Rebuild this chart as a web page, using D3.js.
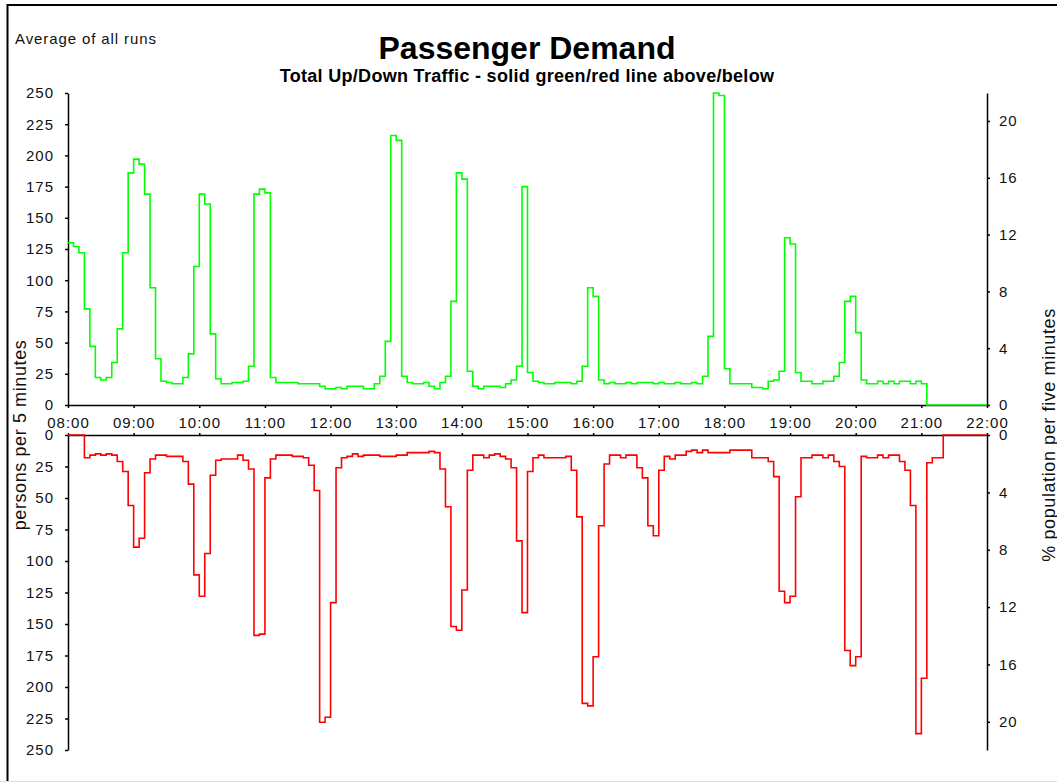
<!DOCTYPE html>
<html>
<head>
<meta charset="utf-8">
<script src="https://cdn.jsdelivr.net/npm/d3@7"></script>
<style>
  body { margin: 0; background: #fff; }
  svg { display: block; font-family: "Liberation Sans", Arial, sans-serif; }
</style>
</head>
<body>
<div id="chart"></div>
<script>
// persons per 5 minutes, one value per 5 minute slot from 08:00 to 22:00
var upTraffic = [
  130, 127, 122, 77, 47, 22, 20, 22, 34, 61, 122, 186,
  197, 193, 169, 94, 37, 19, 18, 17, 17, 22, 41, 111,
  169, 161, 57, 21, 17, 17, 18, 18, 19, 31, 169, 173,
  170, 22, 18, 18, 18, 18, 17, 17, 17, 17, 15, 13,
  13, 14, 13, 15, 15, 15, 13, 13, 17, 23, 51, 216,
  212, 23, 18, 17, 17, 18, 15, 13, 18, 23, 83, 186,
  181, 27, 15, 13, 15, 15, 15, 14, 17, 20, 31, 175,
  26, 19, 18, 17, 17, 18, 18, 18, 17, 19, 31, 94,
  87, 20, 17, 18, 17, 17, 18, 17, 18, 18, 18, 17,
  18, 17, 17, 18, 17, 17, 18, 17, 23, 55, 250, 248,
  29, 17, 17, 17, 17, 14, 14, 13, 19, 20, 27, 134,
  129, 26, 19, 19, 17, 17, 19, 19, 23, 34, 83, 87,
  58, 20, 17, 17, 19, 17, 19, 17, 19, 19, 17, 19,
  17, 0, 0, 0, 0, 0, 0, 0, 0, 0, 0, 0
];
var downTraffic = [
  0, 0, 0, 18, 16, 15, 16, 15, 16, 21, 29, 56,
  89, 82, 30, 19, 16, 16, 17, 17, 17, 21, 39, 111,
  128, 94, 32, 20, 19, 19, 19, 16, 20, 27, 159, 158,
  34, 19, 16, 16, 16, 17, 17, 18, 24, 44, 228, 224,
  133, 26, 18, 17, 15, 17, 16, 16, 16, 17, 17, 17,
  16, 16, 14, 14, 14, 14, 13, 14, 27, 57, 152, 155,
  123, 28, 16, 16, 18, 16, 15, 17, 19, 26, 84, 141,
  29, 18, 16, 18, 18, 18, 18, 17, 28, 65, 213, 215,
  176, 72, 23, 16, 16, 18, 16, 16, 26, 34, 72, 80,
  28, 17, 19, 16, 16, 13, 12, 14, 12, 14, 14, 14,
  14, 12, 12, 12, 12, 18, 18, 18, 21, 33, 124, 133,
  128, 49, 18, 18, 16, 16, 18, 16, 21, 25, 171, 183,
  176, 17, 18, 18, 16, 18, 16, 16, 21, 28, 56, 237,
  193, 22, 18, 18, 0, 0, 0, 0, 0, 0, 0, 0
];
var hourLabels = ["08:00", "09:00", "10:00", "11:00", "12:00", "13:00", "14:00",
                  "15:00", "16:00", "17:00", "18:00", "19:00", "20:00", "21:00", "22:00"];
var personTicks = [0, 25, 50, 75, 100, 125, 150, 175, 200, 225, 250];
var pctTicks = [0, 4, 8, 12, 16, 20];
var population = 1138;
var stepMinutes = 5;

var width = 1057, height = 782;
var fontFam = '"Liberation Sans", Arial, sans-serif';

var svg = d3.select('#chart').append('svg')
    .attr('width', width)
    .attr('height', height);

// frame
svg.append('path')
    .attr('d', 'M7.5,782V5H1057')
    .attr('fill', 'none')
    .attr('stroke', '#000')
    .attr('stroke-width', 2);
svg.append('line')
    .attr('x1', 0).attr('x2', width)
    .attr('y1', 781.5).attr('y2', 781.5)
    .attr('stroke', '#ddd');

var x = d3.scaleLinear()
    .domain([0, (hourLabels.length - 1) * 60])
    .range([68, 987]);
var yTop = d3.scaleLinear().domain([0, 250]).range([405, 93]);
var yBot = d3.scaleLinear().domain([0, 250]).range([435, 750]);
var pctTop = d3.scaleLinear().domain([0, 250 * 100 / population]).range([405, 93]);
var pctBot = d3.scaleLinear().domain([0, 250 * 100 / population]).range([435, 750]);

var hourTicks = hourLabels.map(function(d, i) { return i * 60; });

function styleAxis(g) {
  g.attr('font-family', fontFam).attr('font-size', 15);
  g.selectAll('path, line').attr('stroke', '#000').attr('stroke-width', 1.5);
  g.selectAll('text').attr('fill', '#111').style('letter-spacing', '1px');
}

// axes
svg.append('g')
    .attr('transform', 'translate(68,0)')
    .call(d3.axisLeft(yTop).tickValues(personTicks).tickSize(3).tickSizeOuter(0).tickPadding(11))
    .call(styleAxis);
svg.append('g')
    .attr('transform', 'translate(68,0)')
    .call(d3.axisLeft(yBot).tickValues(personTicks).tickSize(3).tickSizeOuter(0).tickPadding(11))
    .call(styleAxis);
svg.append('g')
    .attr('transform', 'translate(987,0)')
    .call(d3.axisRight(pctTop).tickValues(pctTicks).tickSize(3).tickSizeOuter(0).tickPadding(9))
    .call(styleAxis);
svg.append('g')
    .attr('transform', 'translate(987,0)')
    .call(d3.axisRight(pctBot).tickValues(pctTicks).tickSize(3).tickSizeOuter(0).tickPadding(9))
    .call(styleAxis);
svg.append('g')
    .attr('transform', 'translate(0,405)')
    .call(d3.axisBottom(x).tickValues(hourTicks).tickSize(3).tickSizeOuter(0).tickPadding(9)
      .tickFormat(function(d, i) { return hourLabels[i]; }))
    .call(styleAxis);
svg.append('g')
    .attr('transform', 'translate(0,435)')
    .call(d3.axisTop(x).tickValues(hourTicks).tickSize(2).tickSizeOuter(0).tickFormat(''))
    .call(styleAxis);

// step lines
function toSteps(values) {
  var pts = values.map(function(v, i) { return {t: i * stepMinutes, v: v}; });
  pts.push({t: values.length * stepMinutes, v: values[values.length - 1]});
  return pts;
}

var upLine = d3.line()
    .x(function(d) { return x(d.t); })
    .y(function(d) { return yTop(d.v); })
    .curve(d3.curveStepAfter);
var downLine = d3.line()
    .x(function(d) { return x(d.t); })
    .y(function(d) { return yBot(d.v); })
    .curve(d3.curveStepAfter);

svg.append('path')
    .datum(toSteps(upTraffic))
    .attr('d', upLine)
    .attr('fill', 'none')
    .attr('stroke', '#00ff00')
    .attr('stroke-width', 1.6);
svg.append('path')
    .datum(toSteps(downTraffic))
    .attr('d', downLine)
    .attr('fill', 'none')
    .attr('stroke', '#ff0000')
    .attr('stroke-width', 1.6);

// texts
svg.append('text')
    .attr('x', 15).attr('y', 44)
    .style('font-size', '15px')
    .style('letter-spacing', '0.9px')
    .attr('fill', '#111')
    .text('Average of all runs');
svg.append('text')
    .attr('x', 527).attr('y', 59)
    .attr('text-anchor', 'middle')
    .style('font-size', '32px')
    .style('font-weight', 'bold')
    .text('Passenger Demand');
svg.append('text')
    .attr('x', 527).attr('y', 82)
    .attr('text-anchor', 'middle')
    .style('font-size', '18px')
    .style('font-weight', 'bold')
    .style('letter-spacing', '0.3px')
    .text('Total Up/Down Traffic - solid green/red line above/below');
svg.append('text')
    .attr('transform', 'translate(26,435) rotate(-90)')
    .attr('text-anchor', 'middle')
    .style('font-size', '18px')
    .style('letter-spacing', '0.6px')
    .attr('fill', '#111')
    .text('persons per 5 minutes');
svg.append('text')
    .attr('transform', 'translate(1055,435) rotate(-90)')
    .attr('text-anchor', 'middle')
    .style('font-size', '18px')
    .style('letter-spacing', '0.6px')
    .attr('fill', '#111')
    .text('% population per five minutes');
</script>
</body>
</html>
